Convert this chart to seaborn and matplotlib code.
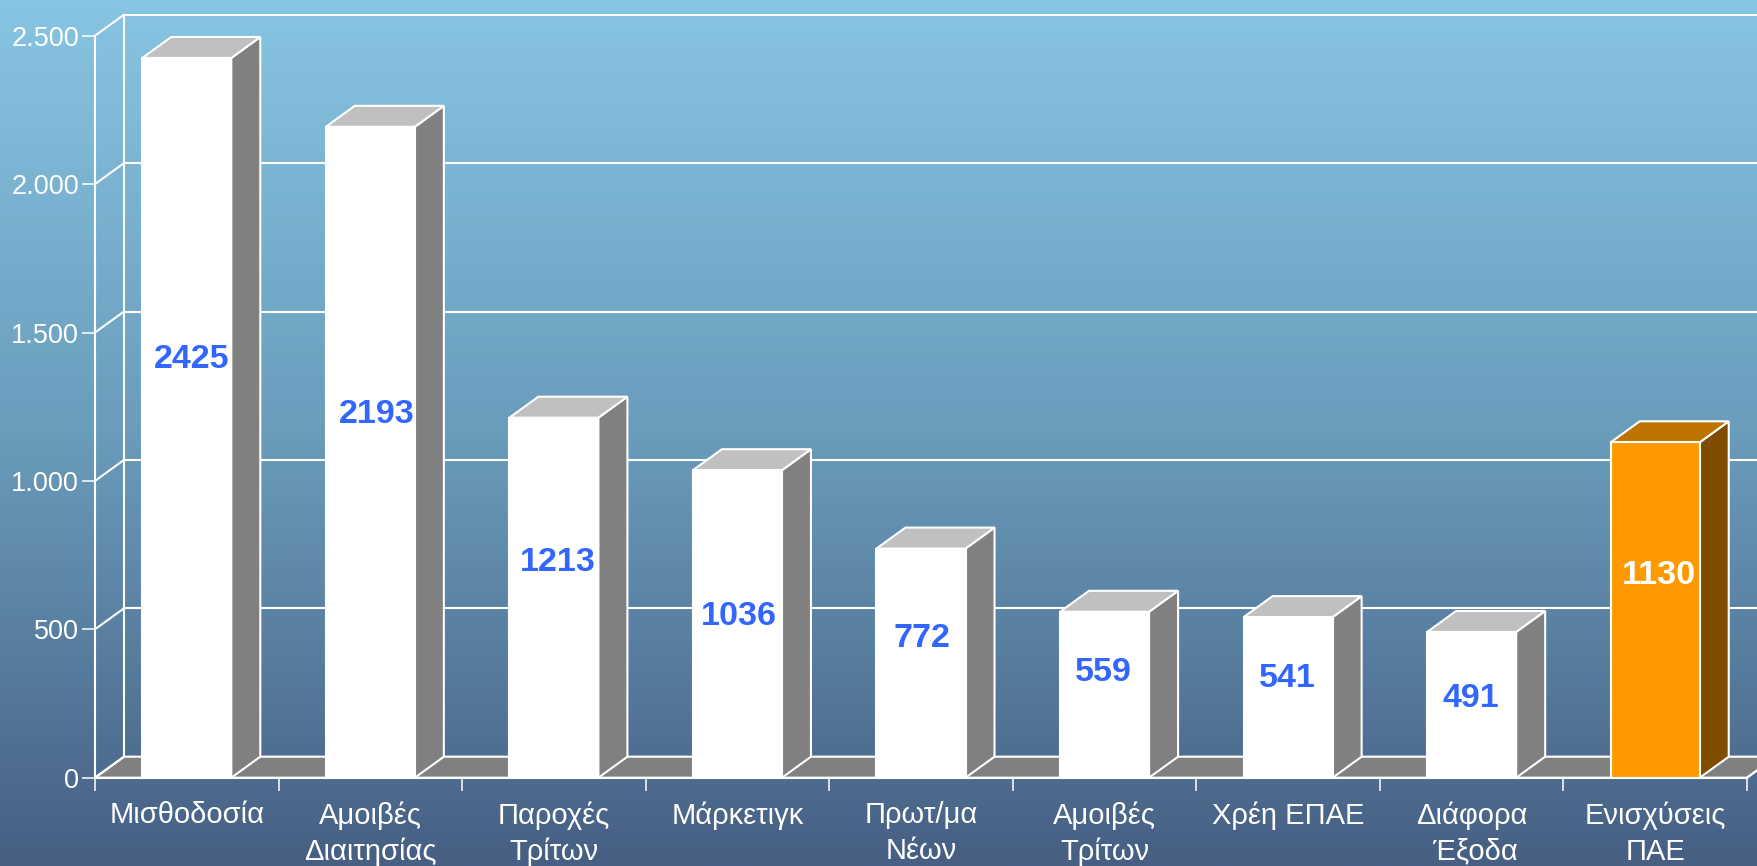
import numpy as np
import pandas as pd
import matplotlib.pyplot as plt
from matplotlib.colors import LinearSegmentedColormap
from matplotlib.patches import Polygon
import seaborn as sns

categories = ["Μισθοδοσία", "Αμοιβές\nΔιαιτησίας", "Παροχές\nΤρίτων", "Μάρκετιγκ",
              "Πρωτ/μα\nΝέων", "Αμοιβές\nΤρίτων", "Χρέη ΕΠΑΕ", "Διάφορα\n Έξοδα",
              "Ενισχύσεις\nΠΑΕ"]
values = [2425, 2193, 1213, 1036, 772, 559, 541, 491, 1130]
y_ticks = [0, 500, 1000, 1500, 2000, 2500]
y_tick_labels = ["0", "500", "1.000", "1.500", "2.000", "2.500"]

# hand placed labels in the original, pixels off the bar centre
label_dx = [5, 6, 4, 1, 1, -1, -1, -1, 4]
label_lift = [58, 38, 35, 7, 25, 22, 19, 6, 35]

W, H = 1757, 866
LEFT, RIGHT, ZERO, TOP = 95, 1747, 777.7, 35.7
DEPTH_X, DEPTH_Y = 29, 21
WHITE_LW = 1.5

sns.set_theme(style="ticks")
plt.rcParams["font.family"] = ["Liberation Sans", "DejaVu Sans"]

fig = plt.figure(figsize=(W / 100, H / 100), dpi=100)

# gradient background
bg = fig.add_axes([0, 0, 1, 1], zorder=0)
bg.axis("off")
cmap = LinearSegmentedColormap.from_list("bg", ["#87C5E2", "#6A9CBC", "#465F83"])
bg.imshow(np.linspace(0, 1, 512).reshape(-1, 1), cmap=cmap, aspect="auto")

ax = fig.add_axes([LEFT / W, 1 - ZERO / H, (RIGHT - LEFT) / W, (ZERO - TOP) / H], zorder=1)
ax.patch.set_alpha(0)

df = pd.DataFrame({"cat": categories, "val": values})
colors = ["white"] * 8 + ["#FF9900"]
sns.barplot(data=df, x="cat", y="val", hue="cat", palette=colors, saturation=1, width=0.485,
            edgecolor="white", linewidth=WHITE_LW, legend=False, ax=ax, zorder=4)
ax.set_xlim(-0.5, len(values) - 0.5)
ax.set_ylim(0, 2500)
ax.set_xlabel("")
ax.set_ylabel("")

# front faces, taken before the polygons get added
bars = sorted(ax.patches, key=lambda p: p.get_x())
bars = [b for b in bars if b.get_height() > 0]

dx = DEPTH_X / ((RIGHT - LEFT) / len(values))
dy = DEPTH_Y / ((ZERO - TOP) / 2500)

# floor
ax.add_patch(Polygon([(-0.5, 0), (-0.5 + dx, dy), (len(values) - 0.5 + dx, dy), (len(values) - 0.5, 0)],
                     fc="#808080", ec="white", lw=WHITE_LW, clip_on=False, zorder=2))

# back wall
for t in y_ticks:
    ax.plot([-0.5, -0.5 + dx], [t, t + dy], color="white", lw=WHITE_LW, clip_on=False, zorder=3,
            solid_capstyle="round")
    ax.plot([-0.5 + dx, 9], [t + dy, t + dy], color="white", lw=WHITE_LW, clip_on=False, zorder=1.5)
ax.plot([-0.5 + dx, -0.5 + dx], [dy, 2500 + dy], color="white", lw=WHITE_LW, clip_on=False, zorder=1.5)
ax.plot([8.5, 8.5 + dx], [0, dy], color="white", lw=WHITE_LW, clip_on=False, zorder=3)

# side and top faces of the bars
side_colors = ["#808080"] * 8 + ["#804D00"]
top_colors = ["#C0C0C0"] * 8 + ["#BF7300"]
for b, side, top in zip(bars, side_colors, top_colors):
    x0, x1, v = b.get_x(), b.get_x() + b.get_width(), b.get_height()
    ax.add_patch(Polygon([(x1, 0), (x1 + dx, dy), (x1 + dx, v + dy), (x1, v)],
                         fc=side, ec="white", lw=WHITE_LW, clip_on=False, zorder=3.5))
    ax.add_patch(Polygon([(x0, v), (x0 + dx, v + dy), (x1 + dx, v + dy), (x1, v)],
                         fc=top, ec="white", lw=WHITE_LW, clip_on=False, zorder=3.5))

# value labels
for i, (b, v) in enumerate(zip(bars, values)):
    ax.annotate(str(v), xy=(b.get_x() + b.get_width() / 2, v / 2),
                xytext=(label_dx[i], label_lift[i]), textcoords="offset pixels",
                ha="center", va="center", fontsize=24.6, fontweight="bold",
                color="white" if i == 8 else "#3366FF", zorder=6)

# axes and ticks
for s in ["top", "right"]:
    ax.spines[s].set_visible(False)
for s in ["left", "bottom"]:
    ax.spines[s].set_color("white")
    ax.spines[s].set_linewidth(WHITE_LW)
    ax.spines[s].set_zorder(5)

ax.set_yticks(y_ticks)
ax.set_yticklabels(y_tick_labels)
ax.tick_params(axis="y", colors="white", length=9.4, width=1.1, labelsize=19.5, pad=2)

ax.set_xticks(np.arange(len(values) + 1) - 0.5)
ax.set_xticklabels([])
ax.tick_params(axis="x", which="major", color="white", length=9.4, width=1.1)
ax.set_xticks(np.arange(len(values)), minor=True)
ax.set_xticklabels(categories, minor=True, fontsize=21, color="white", linespacing=1.35)
ax.tick_params(axis="x", which="minor", length=0, pad=17)

fig.savefig("out.png", dpi=100)
